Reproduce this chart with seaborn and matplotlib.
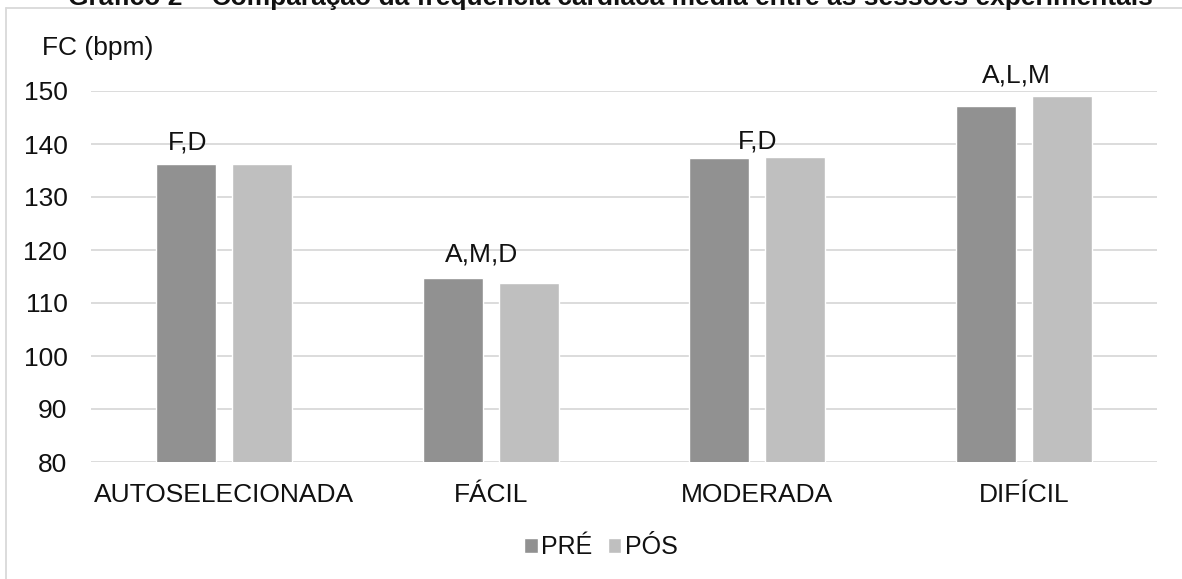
import pandas as pd
import matplotlib
matplotlib.use("Agg")
import matplotlib.pyplot as plt
import seaborn as sns
from matplotlib.lines import Line2D

# chart data
sessoes = ["AUTOSELECIONADA", "FÁCIL", "MODERADA", "DIFÍCIL"]
pre = [136.2, 114.8, 137.3, 147.2]
pos = [136.3, 113.7, 137.5, 149.1]
letras = ["F,D", "A,M,D", "F,D", "A,L,M"]
y_ticks = [80, 90, 100, 110, 120, 130, 140, 150]

# where the significance letters sit (category units / value units)
letra_dx = [-0.139, -0.034, 0.0, -0.026]
letra_y = [140.2, 119.1, 140.4, 153.0]

df = pd.DataFrame({
    "sessao": sessoes * 2,
    "momento": ["PRÉ"] * 4 + ["PÓS"] * 4,
    "fc": pre + pos,
})

sns.set_style("white")
plt.rcParams["font.family"] = ["Liberation Sans", "DejaVu Sans"]

W, H = 1182, 579
fig = plt.figure(figsize=(W / 100, H / 100), dpi=100)
ax = fig.add_axes([91 / W, 1 - 462 / H, (1157 - 91) / W, (462 - 91) / H])

sns.barplot(data=df, x="sessao", y="fc", hue="momento", ax=ax,
            palette={"PRÉ": "#919191", "PÓS": "#bfbfbf"},
            width=0.57, gap=0.21, saturation=1, legend=True)

ax.set_ylim(80, 150)
ax.set_xlim(-0.5, 3.5)
ax.set_yticks(y_ticks)
ax.set_xlabel("")
ax.set_ylabel("")
ax.yaxis.grid(True, color="#d9d9d9", linewidth=1.3)
ax.set_axisbelow(True)
for s in ax.spines.values():
    s.set_visible(False)
ax.tick_params(axis="y", length=0, pad=17, labelsize=19, labelcolor="#111111")
ax.tick_params(axis="x", length=0, pad=15, labelsize=19, labelcolor="#111111")

for i, txt in enumerate(letras):
    ax.text(i + letra_dx[i], letra_y[i], txt, ha="center", va="center",
            fontsize=19, color="#111111", clip_on=False)

# legend at the bottom
handles, labels = ax.get_legend_handles_labels()
ax.get_legend().remove()
fig.legend(handles, labels, loc="center", bbox_to_anchor=(601 / W, 1 - 547 / H),
           ncol=2, frameon=False, fontsize=18, handlelength=0.55, handleheight=0.55,
           handletextpad=0.15, columnspacing=0.6, labelcolor="#111111")

fig.text(42 / W, 1 - 48 / H, "FC (bpm)", ha="left", va="center", fontsize=19, color="#111111")

# title, cut off by the top of the image (as in the source)
fig.text(610 / W, 1 - 5 / H,
         "Gráfico 2 – Comparação da frequência cardíaca média entre as sessões experimentais",
         ha="center", va="baseline", fontsize=19, fontweight="bold", color="#111111")

# chart area border (left and top edges)
fig.add_artist(Line2D([5.5 / W, 5.5 / W], [1 - 7.5 / H, 0], color="#d9d9d9", linewidth=1.3))
fig.add_artist(Line2D([5.5 / W, 1], [1 - 7.5 / H, 1 - 7.5 / H], color="#d9d9d9", linewidth=1.3))

fig.savefig("out.png", dpi=100)
